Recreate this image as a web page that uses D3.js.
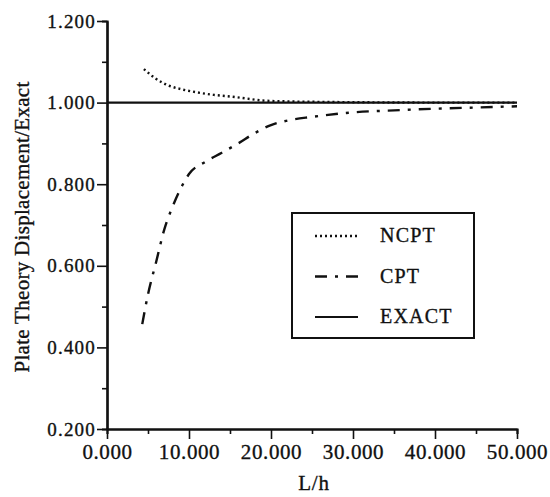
<!DOCTYPE html>
<html><head><meta charset="utf-8">
<script src="https://cdn.jsdelivr.net/npm/d3@7"></script>
<style>body{margin:0;background:#fff}svg text{font-family:"Liberation Serif","Times New Roman",serif;fill:#111;stroke:#111;stroke-width:0.35px}</style>
</head><body><svg id="c" width="550" height="497"></svg>
<script>
const xTicks = [0, 10, 20, 30, 40, 50];
const yTicks = [0.2, 0.4, 0.6, 0.8, 1.0, 1.2];
const ncptX = [4.5, 6, 7.5, 9, 11, 13, 15, 17, 19, 22, 25, 30, 40, 50];
const ncptY = [1.082, 1.058, 1.042, 1.033, 1.025, 1.019, 1.015, 1.010, 1.005, 1.003, 1.002, 1.001, 1.000, 1.000];
const cptX = [4.3, 5, 6, 7, 8, 9, 10, 12, 14, 16, 18, 20, 22, 25, 30, 35, 40, 45, 50];
const cptY = [0.457, 0.53, 0.61, 0.69, 0.745, 0.79, 0.825, 0.855, 0.877, 0.900, 0.925, 0.945, 0.956, 0.965, 0.976, 0.981, 0.985, 0.988, 0.991];
const exactX = [0, 50];
const exactY = [1.0, 1.0];
const legendNames = ["NCPT", "CPT", "EXACT"];

const svg = d3.select("#c");
const x = d3.scaleLinear().domain([0, 50]).range([107, 517]);
const y = d3.scaleLinear().domain([0.2, 1.2]).range([429, 21]);

function axisStyle(size, spacing){
  return g => {
    g.selectAll("path").attr("stroke","#111").attr("stroke-width",2.2);
    g.selectAll("line").attr("stroke","#111").attr("stroke-width",1.6);
    g.selectAll("text").style("font-size",size+"px").style("letter-spacing",spacing+"px").attr("fill","#111");
  };
}
// minor ticks
const xAxisMinor = d3.axisBottom(x).tickValues([5,15,25,35,45]).tickSize(5).tickFormat("");
svg.append("g").attr("transform","translate(0,429)").call(xAxisMinor).call(axisStyle(21,0.6));
const yAxisMinor = d3.axisLeft(y).tickValues([0.3,0.5,0.7,0.9,1.1]).tickSize(5).tickFormat("");
svg.append("g").attr("transform","translate(107,0)").call(yAxisMinor).call(axisStyle(19,1.2));

const xAxis = d3.axisBottom(x).tickValues(xTicks).tickSize(10).tickSizeOuter(0).tickPadding(5).tickFormat(d3.format(".3f"));
svg.append("g").attr("transform","translate(0,429)").call(xAxis).call(axisStyle(21,0.6));
const yAxis = d3.axisLeft(y).tickValues(yTicks).tickSize(10).tickSizeOuter(0).tickPadding(1).tickFormat(d3.format(".3f"));
svg.append("g").attr("transform","translate(107,0)").call(yAxis).call(axisStyle(19,1.2));

const line = d3.line().x(d=>x(d[0])).y(d=>y(d[1])).curve(d3.curveMonotoneX);
const series = [
  {name:"NCPT", pts: d3.zip(ncptX,ncptY), dash:"2,3", w:2.4},
  {name:"CPT", pts: d3.zip(cptX,cptY), dash:"12,8,3,8", w:2.4},
  {name:"EXACT", pts: d3.zip(exactX,exactY), dash:null, w:2.2}
];
series.forEach(s=>{
  svg.append("path").datum(s.pts).attr("d",line).attr("fill","none")
    .attr("stroke","#111").attr("stroke-width",s.w).attr("stroke-dasharray",s.dash);
});

// legend
const lg = svg.append("g");
lg.append("rect").attr("x",292).attr("y",213).attr("width",182).attr("height",125)
  .attr("fill","#fff").attr("stroke","#111").attr("stroke-width",2);
legendNames.forEach((n,i)=>{
  const s = series.find(d=>d.name===n);
  const yy = 236 + i*40.5;
  lg.append("line").attr("x1",315).attr("x2",358).attr("y1",yy).attr("y2",yy)
    .attr("stroke","#111").attr("stroke-width",s.w).attr("stroke-dasharray",s.dash);
  lg.append("text").attr("x",380).attr("y",yy+6).text(n).style("font-size","20px").style("letter-spacing","1.2px");
});

svg.append("text").attr("x",314).attr("y",490).attr("text-anchor","middle").text("L/h")
  .style("font-size","21px").style("letter-spacing","0.8px");
svg.append("text").attr("transform","translate(29,227) rotate(-90)").attr("text-anchor","middle")
  .text("Plate Theory Displacement/Exact").style("font-size","21px").style("letter-spacing","0.3px");
</script></body></html>
